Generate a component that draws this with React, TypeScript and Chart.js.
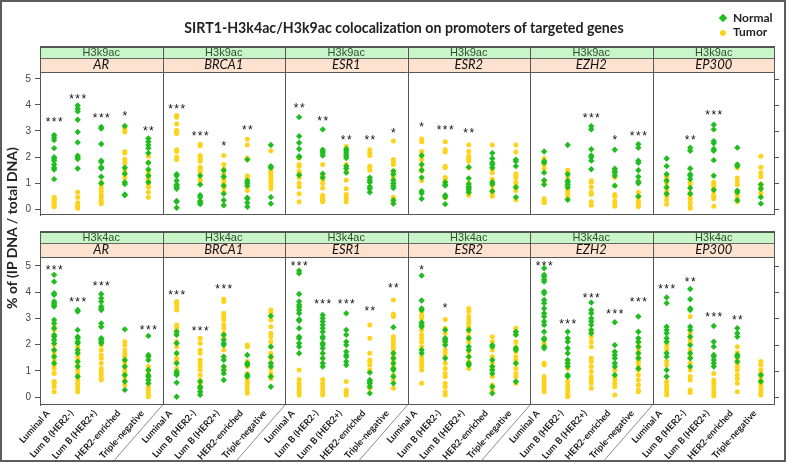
import React, { useEffect, useRef } from 'react';
import { Chart, registerables } from 'chart.js';
Chart.register(...registerables);

// ---------- labels ----------
const genes = ['AR', 'BRCA1', 'ESR1', 'ESR2', 'EZH2', 'EP300'];
const subtypes = ['Luminal A', 'Lum B (HER2-)', 'Lum B (HER2+)', 'HER2-enriched', 'Triple-negative'];
const marks = ['H3k9ac', 'H3k4ac'];
const yTicks = [0, 1, 2, 3, 4, 5];
const seriesNames = ['Normal', 'Tumor'];

// ---------- H3k9ac (top row): per gene, per subtype ----------
const k9_AR_N = [
  [2.84, 2.75, 2.65, 2.34, 1.99, 1.93, 1.86, 1.71, 1.59, 1.52, 1.15],
  [3.98, 3.85, 3.75, 3.43, 2.96, 2.56, 2.05, 1.98, 1.92, 1.56],
  [3.15, 3.09, 2.5, 1.86, 1.81, 1.61, 1.56, 1.24, 0.99],
  [3.19, 1.59, 1.36, 1.03, 0.96, 0.56, 0.53],
  [2.71, 2.59, 2.46, 2.34, 2.15, 1.78, 1.52, 1.28, 1.03],
];
const k9_AR_T = [
  [0.46, 0.4, 0.34, 0.28, 0.21, 0.15, 0.09],
  [0.65, 0.46, 0.24, 0.15, 0.09, 0.03],
  [1.03, 0.94, 0.81, 0.69, 0.53, 0.46, 0.34, 0.24, 0.21],
  [3.11, 3.03, 2.96, 2.21, 2.15, 1.9, 1.78, 1.59, 1.46, 1.34, 1.21],
  [2.03, 1.78, 1.46, 1.36, 1.28, 1.19, 1.09, 0.94, 0.84, 0.65, 0.46],
];
const k9_BRCA1_N = [
  [1.34, 1.28, 1.09, 0.94, 0.9, 0.84, 0.78, 0.31, 0.28, 0.05],
  [1.28, 0.94, 0.53, 0.46, 0.31, 0.24, 0.19],
  [1.49, 1.24, 0.9, 0.59, 0.34, 0.15],
  [1.9, 1.09, 0.99, 0.9, 0.44, 0.4, 0.24, 0.09],
  [2.46, 1.65, 1.59, 0.46, 0.21],
];
const k9_BRCA1_T = [
  [3.59, 3.53, 3.28, 3.03, 2.96, 2.9, 2.28, 2.21, 1.99, 1.9],
  [2.49, 2.43, 2.06, 1.96, 1.9, 1.84, 1.61, 1.55, 1.49, 1.4, 1.15, 1.09],
  [2.06, 1.71, 1.53, 1.4, 1.28, 1.15, 1.03, 0.94, 0.81, 0.65],
  [2.68, 2.46, 1.96, 1.9, 1.28, 1.21, 1.11, 0.84, 0.71],
  [2.24, 1.49, 1.4, 1.31, 1.21, 1.11, 1.03, 0.9, 0.78],
];
const k9_ESR1_N = [
  [3.53, 2.8, 2.55, 2.31, 2.03, 1.99, 1.31],
  [3.06, 2.28, 2.21, 2.15, 2.06, 1.36, 1.21],
  [2.31, 2.24, 2.15, 2.06, 1.96, 1.65, 1.56, 1.4],
  [1.21, 1.11, 1.03, 0.86, 0.78, 0.65],
  [1.46, 1.34, 1.11, 0.99, 0.9, 0.81, 0.34, 0.21],
];
const k9_ESR1_T = [
  [1.96, 1.71, 1.65, 1.44, 1.36, 1.21, 0.99, 0.86, 0.59, 0.28],
  [1.71, 1.28, 1.15, 0.99, 0.81, 0.53, 0.46, 0.4, 0.34, 0.28],
  [2.4, 2.03, 1.71, 1.44, 1.11, 0.78, 0.56, 0.5, 0.4, 0.28],
  [2.28, 2.15, 2.06, 1.65, 1.59, 1.49],
  [2.61, 1.9, 1.81, 1.71, 1.46, 1.34, 1.21, 0.46, 0.4, 0.28],
];
const k9_ESR2_N = [
  [2.06, 1.71, 1.49, 1.21, 0.69, 0.61, 0.4],
  [1.03, 0.94, 0.9, 0.53, 0.46, 0.19],
  [1.61, 1.18, 0.96, 0.86, 0.81, 0.74, 0.65],
  [2.15, 1.94, 1.78, 1.71, 1.59, 1.03, 0.96, 0.69],
  [1.9, 1.84, 1.65, 0.84, 0.46],
];
const k9_ESR2_T = [
  [2.69, 2.59, 2.21, 2.06, 1.9, 1.53, 1.46, 1.09],
  [2.59, 2.28, 2.19, 1.65, 1.59, 1.21, 1.15, 1.06, 0.49, 0.44],
  [2.46, 2.21, 2.03, 1.96, 1.9, 1.84, 1.59, 0.99, 0.65, 0.59, 0.53],
  [2.46, 1.53, 1.4, 1.15, 0.9, 0.71, 0.59, 0.49],
  [2.46, 2.19, 1.36, 1.28, 1.21, 1.03, 0.9, 0.81, 0.71, 0.36],
];
const k9_EZH2_N = [
  [2.21, 1.84, 1.78, 1.4, 1.11, 0.94],
  [2.46, 1.34, 1.09, 1.03, 0.94, 0.84, 0.36],
  [3.18, 3.06, 2.3, 2.06, 1.99, 1.86, 1.53],
  [2.28, 1.55, 1.46, 1.4, 1.28, 0.9],
  [2.49, 2.36, 1.86, 1.78, 1.49, 1.24, 1.06, 0.99, 0.49],
];
const k9_EZH2_T = [
  [1.94, 1.86, 1.71, 1.56, 1.03, 0.4, 0.34, 0.28, 0.24],
  [1.49, 1.4, 1.21, 0.86, 0.78, 0.69, 0.59, 0.46],
  [1.09, 1.03, 0.84, 0.65, 0.56, 0.28, 0.15],
  [1.21, 0.9, 0.56, 0.49, 0.31, 0.21, 0.11],
  [0.65, 0.46, 0.31, 0.24, 0.15, 0.09],
];
const k9_EP300_N = [
  [1.94, 1.65, 1.34, 1.09, 0.84, 0.59],
  [2.36, 2.24, 1.56, 1.34, 1.28, 1.15, 0.81, 0.59],
  [3.24, 3.06, 2.61, 2.53, 2.31, 2.24, 1.88, 1.28, 0.74],
  [2.36, 1.71, 1.65, 0.71, 0.65, 0.34],
  [0.94, 0.78, 0.46, 0.21],
];
const k9_EP300_T = [
  [1.28, 1.21, 1.15, 0.99, 0.78, 0.65, 0.49, 0.34, 0.19],
  [1.03, 0.94, 0.61, 0.53, 0.4, 0.24, 0.09, 0.03],
  [1.03, 0.94, 0.84, 0.71, 0.56, 0.49, 0.4, 0.11],
  [1.59, 1.19, 1.03, 0.94, 0.65, 0.56, 0.46, 0.28],
  [2.03, 1.61, 1.4, 1.24, 0.96, 0.84, 0.65, 0.59],
];

// ---------- H3k4ac (bottom row) ----------
const k4_AR_N = [
  [4.66, 4.4, 3.96, 3.9, 3.64, 3.58, 3.51, 3.45, 2.94, 2.81, 2.62, 2.37, 2.31, 2.18, 2.05, 1.79, 1.54, 1.29],
  [3.32, 3.26, 2.56, 2.3, 2.24, 2.11, 2.05, 1.79, 1.67, 1.35, 1.16, 0.78],
  [3.93, 3.77, 3.64, 3.45, 3.38, 3.32, 2.81, 2.68, 2.24, 2.18, 2.11, 2.05],
  [2.58, 1.41, 1.16, 0.84, 0.59, 0.27],
  [2.33, 1.6, 1.54, 1.41, 1.03, 0.84, 0.78, 0.65, 0.52],
];
const k4_AR_T = [
  [2.75, 2.56, 2.3, 1.98, 1.79, 1.73, 1.6, 1.41, 1.22, 1.09, 0.9, 0.59, 0.52, 0.39, 0.2],
  [1.92, 1.73, 1.54, 1.41, 1.22, 1.03, 0.9, 0.78, 0.65, 0.52, 0.39, 0.27, 0.2],
  [1.98, 1.79, 1.6, 1.48, 1.29, 1.09, 0.97, 0.84, 0.71, 0.65],
  [2.11, 1.98, 1.79, 1.67, 1.54, 1.35, 1.22, 1.03, 0.9, 0.78, 0.65, 0.46],
  [1.16, 0.97, 0.78, 0.65, 0.52, 0.39, 0.27, 0.17, 0.08, 0.01],
];
const k4_BRCA1_N = [
  [2.49, 2.37, 2.05, 1.67, 1.29, 0.97, 0.9, 0.84, 0.55, 0.01],
  [0.59, 0.39, 0.33, 0.2, 0.08],
  [2.37, 2.18, 2.05, 1.98, 1.54, 1.41, 1.16, 1.03, 0.9, 0.65],
  [1.6, 1.29, 1.22, 0.84, 0.78],
  [3.09, 1.92, 1.54, 1.29, 1.16, 0.78, 0.39],
];
const k4_BRCA1_T = [
  [3.64, 3.58, 3.45, 3.32, 2.75, 2.68, 2.56, 2.37, 2.11, 1.92, 1.67, 1.48, 1.35, 1.09],
  [2.24, 2.05, 1.79, 1.67, 1.41, 1.29, 1.16, 1.03, 0.84, 0.65, 0.52, 0.39, 0.2],
  [3.73, 3.64, 3.19, 3.07, 2.94, 2.75, 2.62, 2.43, 2.3, 1.79, 1.54, 1.16, 1.03],
  [1.98, 1.92, 1.35, 1.16, 0.9, 0.78, 0.65, 0.52, 0.39, 0.27, 0.14],
  [3.32, 3.19, 2.94, 2.68, 2.43, 2.3, 2.11, 1.92, 1.67, 1.48, 1.29, 1.09, 0.9, 0.71],
];
const k4_ESR1_N = [
  [4.82, 4.72, 3.93, 3.64, 3.51, 3.42, 3.32, 3.19, 2.96, 2.91, 2.62, 2.3, 2.24, 2.05, 1.92, 1.67],
  [3.13, 3.0, 2.88, 2.75, 2.62, 2.49, 2.3, 2.24, 2.05, 1.98, 1.86, 1.67, 1.48, 1.29, 1.16],
  [3.19, 2.56, 2.37, 2.11, 1.98, 1.73, 1.6, 1.54, 1.35, 1.22],
  [0.93, 0.65, 0.59, 0.52, 0.39, 0.14],
  [2.66, 1.67, 1.48, 1.29, 1.09, 1.03, 0.78, 0.52],
];
const k4_ESR1_T = [
  [1.03, 0.67, 0.52, 0.39, 0.27, 0.17, 0.08],
  [1.48, 0.67, 0.52, 0.39, 0.27, 0.17, 0.08],
  [0.59, 0.27, 0.17, 0.08],
  [2.75, 2.24, 1.67, 1.41, 1.35, 1.22, 1.03, 0.46, 0.33],
  [3.7, 3.17, 3.07, 2.3, 2.18, 2.05, 1.92, 1.79, 1.54, 1.41, 1.16, 0.84, 0.65, 0.33],
];
const k4_ESR2_N = [
  [4.63, 3.68, 3.38, 3.32, 2.84, 2.75, 2.68, 1.79, 1.67],
  [2.56, 2.24, 2.18, 2.11, 1.98, 1.48],
  [2.56, 2.24, 1.92, 1.79, 1.54, 1.29, 1.22],
  [1.98, 1.92, 1.41, 1.16, 1.03, 0.9, 0.39, 0.14],
  [2.49, 2.37, 1.86, 1.79, 1.29, 0.59],
];
const k4_ESR2_T = [
  [3.26, 3.13, 3.0, 2.56, 2.37, 2.24, 2.11, 1.92, 1.54, 1.41, 1.29, 1.16, 1.03, 0.52],
  [2.96, 2.62, 2.43, 2.05, 1.79, 1.67, 1.54, 1.29, 1.09, 0.9, 0.78, 0.52, 0.39, 0.2, 0.08],
  [3.38, 3.26, 3.07, 2.94, 2.81, 2.68, 2.49, 2.3, 2.11, 1.73, 1.54, 1.35, 1.22, 1.09],
  [2.3, 2.11, 1.79, 1.54, 1.29, 1.09, 0.78, 0.46, 0.27],
  [2.62, 2.49, 2.37, 2.11, 1.92, 1.73, 1.54, 1.41, 1.29, 1.09, 0.9, 0.78, 0.52],
];
const k4_EZH2_N = [
  [4.91, 4.66, 4.59, 4.47, 4.4, 4.02, 3.96, 3.7, 3.58, 3.38, 3.19, 3.07, 2.88, 2.75, 2.49, 2.24, 2.18, 1.92, 1.86],
  [2.49, 2.24, 2.11, 1.86, 1.67, 1.41, 1.29, 1.16, 0.84, 0.78],
  [3.6, 3.32, 3.19, 3.0, 2.88, 2.75, 2.56, 2.43],
  [2.85, 1.98, 1.73, 1.6, 1.48, 1.29, 1.16, 0.84],
  [3.07, 2.49, 2.24, 2.11, 1.92, 1.67, 1.48, 1.09],
];
const k4_EZH2_T = [
  [2.05, 1.98, 1.29, 1.22, 0.78, 0.65, 0.52, 0.39, 0.27, 0.2],
  [1.35, 1.22, 1.09, 0.59, 0.46, 0.33, 0.2, 0.08, 0.01],
  [2.49, 2.3, 2.11, 1.92, 1.48, 1.35, 1.16, 0.97, 0.78, 0.65, 0.52, 0.33],
  [1.03, 0.78, 0.65, 0.52, 0.39, 0.08],
  [2.05, 1.79, 1.54, 1.35, 1.22, 1.03, 0.84, 0.65, 0.46, 0.27, 0.2],
];
const k4_EP300_N = [
  [3.8, 3.58, 2.68, 2.56, 2.43, 2.24, 2.11, 1.67, 1.54, 1.03, 0.78],
  [4.12, 3.73, 3.38, 3.32, 2.68, 2.56, 2.3, 1.98, 1.67, 1.48, 1.16],
  [2.71, 2.11, 1.92, 1.6, 1.54, 1.41, 1.29, 1.16],
  [2.62, 2.43, 2.3, 1.6, 1.54, 1.35],
  [0.84, 0.59],
];
const k4_EP300_T = [
  [2.05, 1.92, 1.79, 1.35, 1.22, 0.59, 0.46, 0.33, 0.2, 0.08],
  [3.07, 2.43, 2.18, 2.05, 1.79, 1.54, 1.29, 1.03, 0.78, 0.65, 0.27, 0.17],
  [0.9, 0.65, 0.52, 0.39, 0.27, 0.14, 0.04],
  [1.92, 1.69, 1.48, 1.29, 1.16, 1.03, 0.84, 0.71, 0.52, 0.2],
  [1.35, 1.22, 1.03, 0.9, 0.78, 0.65, 0.52, 0.39, 0.27, 0.14, 0.08],
];

// ---------- significance marks (text, and the value where they sit) ----------
const k9_stars = [
  ['***', '***', '***', '*', '**'],
  ['***', '***', '*', '**', ''],
  ['**', '**', '**', '**', '*'],
  ['*', '***', '**', '', ''],
  ['', '', '***', '*', '***'],
  ['', '**', '***', '', ''],
];
const k9_starY = [
  [3.46, 4.36, 3.6, 3.7, 3.1],
  [3.96, 2.93, 2.55, 3.15, 0],
  [3.99, 3.49, 2.78, 2.78, 3.03],
  [3.28, 3.15, 3.03, 0, 0],
  [0, 0, 3.63, 2.78, 2.93],
  [0, 2.78, 3.74, 0, 0],
];
const k4_stars = [
  ['***', '***', '***', '', '***'],
  ['***', '***', '***', '', ''],
  ['***', '***', '***', '**', '**'],
  ['*', '*', '', '', ''],
  ['***', '***', '***', '***', '***'],
  ['***', '**', '***', '**', ''],
];
const k4_starY = [
  [4.97, 3.73, 4.36, 0, 2.66],
  [4.02, 2.62, 4.24, 0, 0],
  [5.13, 3.68, 3.68, 3.38, 4.27],
  [4.97, 3.51, 0, 0, 0],
  [5.1, 2.91, 3.89, 3.28, 3.73],
  [4.24, 4.49, 3.16, 3.04, 0],
];

const k9Normal = [k9_AR_N, k9_BRCA1_N, k9_ESR1_N, k9_ESR2_N, k9_EZH2_N, k9_EP300_N];
const k9Tumor = [k9_AR_T, k9_BRCA1_T, k9_ESR1_T, k9_ESR2_T, k9_EZH2_T, k9_EP300_T];
const k4Normal = [k4_AR_N, k4_BRCA1_N, k4_ESR1_N, k4_ESR2_N, k4_EZH2_N, k4_EP300_N];
const k4Tumor = [k4_AR_T, k4_BRCA1_T, k4_ESR1_T, k4_ESR2_T, k4_EZH2_T, k4_EP300_T];

// ---------- layout / style ----------
const PANEL_W = 5.2;
const PAD = 0.6;
const X_MAX = PANEL_W * genes.length;
const GREEN = '#1fbd1f';
const YELLOW = '#fdd31a';
const STRIP_GREEN = '#c9f6c9';
const STRIP_PEACH = '#fde2cf';

const catX = (p: number, c: number) => p * PANEL_W + PAD + c;

function toPoints(panels: number[][][]) {
  const pts: { x: number; y: number }[] = [];
  panels.forEach((gene, p) =>
    gene.forEach((vals, c) => vals.forEach((v) => pts.push({ x: catX(p, c), y: v })))
  );
  return pts;
}

function makeDecor(mark: string, stars: string[][], starY: number[][], diagonals: boolean) {
  return {
    id: 'decor',
    afterDraw(chart: any) {
      const { ctx, chartArea: a, scales } = chart;
      const xs = scales.x;
      const ys = scales.y;
      ctx.save();
      // strips
      for (let p = 0; p < genes.length; p++) {
        const x0 = xs.getPixelForValue(p * PANEL_W);
        const x1 = xs.getPixelForValue((p + 1) * PANEL_W);
        ctx.fillStyle = STRIP_GREEN;
        ctx.fillRect(x0, a.top - 25, x1 - x0, 11);
        ctx.fillStyle = STRIP_PEACH;
        ctx.fillRect(x0, a.top - 14, x1 - x0, 14);
        const xc = (x0 + x1) / 2;
        ctx.textAlign = 'center';
        ctx.textBaseline = 'middle';
        ctx.fillStyle = '#2e4e2e';
        ctx.font = '11px "Liberation Sans"';
        ctx.fillText(mark, xc, a.top - 19);
        ctx.fillStyle = '#111';
        ctx.font = 'italic 13px Lato';
        ctx.fillText(genes[p], xc, a.top - 7);
      }
      // strip lines
      ctx.strokeStyle = '#222';
      ctx.lineWidth = 1.3;
      ctx.beginPath();
      ctx.moveTo(a.left, a.top - 25);
      ctx.lineTo(a.right, a.top - 25);
      ctx.stroke();
      ctx.lineWidth = 1;
      ctx.strokeStyle = '#666';
      ctx.beginPath();
      ctx.moveTo(a.left, a.top - 13.5);
      ctx.lineTo(a.right, a.top - 13.5);
      ctx.stroke();
      // panel border + separators
      ctx.strokeStyle = '#555';
      ctx.strokeRect(a.left + 0.5, a.top - 25, a.right - a.left - 1, a.bottom - a.top + 25 - 0.5);
      ctx.beginPath();
      ctx.moveTo(a.left, a.top + 0.5);
      ctx.lineTo(a.right, a.top + 0.5);
      for (let p = 1; p < genes.length; p++) {
        const bx = Math.round(xs.getPixelForValue(p * PANEL_W)) + 0.5;
        ctx.moveTo(bx, a.top - 25);
        ctx.lineTo(bx, a.bottom);
      }
      ctx.stroke();
      // right-hand ticks
      ctx.beginPath();
      yTicks.forEach((v) => {
        const y = Math.round(ys.getPixelForValue(v)) + 0.5;
        ctx.moveTo(a.right, y);
        ctx.lineTo(a.right + 4, y);
      });
      ctx.stroke();
      // diagonal separators under the axis
      if (diagonals) {
        ctx.strokeStyle = '#8a8a8a';
        ctx.beginPath();
        for (let p = 1; p < genes.length; p++) {
          const bx = xs.getPixelForValue(p * PANEL_W);
          ctx.moveTo(bx, a.bottom);
          ctx.lineTo(bx - 48, a.bottom + 55);
        }
        ctx.stroke();
      }
      // significance stars
      ctx.fillStyle = '#111';
      ctx.font = '12px "Liberation Sans"';
      ctx.textAlign = 'center';
      ctx.textBaseline = 'alphabetic';
      (ctx as any).letterSpacing = '1.5px';
      for (let p = 0; p < genes.length; p++) {
        for (let c = 0; c < subtypes.length; c++) {
          const s = stars[p][c];
          if (!s) continue;
          const x = xs.getPixelForValue(catX(p, c)) + 0.75;
          const y = ys.getPixelForValue(starY[p][c]);
          ctx.fillText(s, x, y + 7);
        }
      }
      ctx.restore();
    },
  };
}

function makeConfig(
  normal: number[][][],
  tumor: number[][][],
  mark: string,
  stars: string[][],
  starY: number[][],
  yMin: number,
  yMax: number,
  showX: boolean,
  padTop: number,
  padBottom: number
): any {
  return {
    type: 'scatter',
    data: {
      datasets: [
        {
          label: seriesNames[0],
          data: toPoints(normal),
          pointStyle: 'rectRot',
          pointRadius: 3.2,
          backgroundColor: GREEN,
          borderColor: GREEN,
          borderWidth: 0,
        },
        {
          label: seriesNames[1],
          data: toPoints(tumor),
          pointStyle: 'circle',
          pointRadius: 2.5,
          backgroundColor: YELLOW,
          borderColor: YELLOW,
          borderWidth: 0,
        },
      ],
    },
    options: {
      animation: false,
      responsive: false,
      events: [],
      layout: { padding: { left: 10, right: 11, top: padTop, bottom: padBottom } },
      plugins: { legend: { display: false }, tooltip: { enabled: false }, title: { display: false } },
      scales: {
        x: {
          type: 'linear',
          min: 0,
          max: X_MAX,
          display: showX,
          afterBuildTicks: (s: any) => {
            const t: any[] = [];
            genes.forEach((_, p) => subtypes.forEach((__, c) => t.push({ value: catX(p, c) })));
            s.ticks = t;
          },
          afterFit: (s: any) => {
            if (showX) s.height = 58;
          },
          grid: { display: false, drawTicks: false, tickLength: 0 },
          border: { display: false },
          ticks: {
            autoSkip: false,
            minRotation: 48,
            maxRotation: 48,
            padding: 3,
            labelOffset: -6,
            color: '#1a1a1a',
            font: { family: 'Lato', size: 9.2, weight: 'bold' },
            callback: (_v: any, i: number) => subtypes[i % subtypes.length],
          },
        },
        y: {
          type: 'linear',
          min: yMin,
          max: yMax,
          afterBuildTicks: (s: any) => {
            s.ticks = yTicks.map((v) => ({ value: v }));
          },
          afterFit: (s: any) => {
            s.width = 30;
          },
          grid: { drawOnChartArea: false, drawTicks: true, tickLength: 5, color: '#555' },
          border: { display: true, color: '#555' },
          ticks: {
            padding: 4,
            color: '#444',
            font: { family: 'Liberation Sans', size: 10 },
            callback: (v: any) => String(v),
          },
        },
      },
    },
    plugins: [makeDecor(mark, stars, starY, showX)],
  };
}

export default function App() {
  const topRef = useRef<HTMLCanvasElement>(null);
  const botRef = useRef<HTMLCanvasElement>(null);

  useEffect(() => {
    const c1 = new Chart(
      topRef.current as HTMLCanvasElement,
      makeConfig(k9Normal, k9Tumor, marks[0], k9_stars, k9_starY, -0.226, 5.263, false, 72, 7)
    );
    const c2 = new Chart(
      botRef.current as HTMLCanvasElement,
      makeConfig(k4Normal, k4Tumor, marks[1], k4_stars, k4_starY, -0.305, 5.34, true, 32, 0)
    );
    return () => {
      c1.destroy();
      c2.destroy();
    };
  }, []);

  return (
    <div
      style={{
        position: 'absolute',
        left: 0,
        top: 0,
        width: 786,
        height: 463,
        background: '#fff',
        overflow: 'hidden',
        fontFamily: 'Lato, sans-serif',
      }}
    >
      <canvas ref={topRef} width={786} height={225} style={{ position: 'absolute', left: 0, top: 0, display: 'block' }} />
      <canvas ref={botRef} width={786} height={238} style={{ position: 'absolute', left: 0, top: 225, display: 'block' }} />
      <div
        style={{
          position: 'absolute',
          left: 160,
          width: 488,
          top: 19,
          lineHeight: '18px',
          fontSize: 14.2,
          fontWeight: 700,
          textAlign: 'center',
          color: '#222',
          whiteSpace: 'nowrap',
        }}
      >
        SIRT1-H3k4ac/H3k9ac colocalization on promoters of targeted genes
      </div>
      <div
        style={{
          position: 'absolute',
          left: -138,
          top: 219,
          width: 300,
          height: 18,
          lineHeight: '18px',
          fontSize: 14,
          fontWeight: 700,
          textAlign: 'center',
          color: '#222',
          transform: 'rotate(-90deg)',
          whiteSpace: 'nowrap',
        }}
      >
        % of (IP DNA / total DNA)
      </div>
      {/* legend */}
      <div style={{ position: 'absolute', left: 720, top: 15, width: 6, height: 6, background: GREEN, transform: 'rotate(45deg)' }} />
      <div style={{ position: 'absolute', left: 733, top: 10, fontSize: 12, lineHeight: '16px', fontWeight: 700, color: '#222' }}>
        {seriesNames[0]}
      </div>
      <div style={{ position: 'absolute', left: 720, top: 30, width: 6, height: 6, background: YELLOW, borderRadius: '50%' }} />
      <div style={{ position: 'absolute', left: 733, top: 24, fontSize: 12, lineHeight: '16px', fontWeight: 700, color: '#222' }}>
        {seriesNames[1]}
      </div>
      {/* outer frame */}
      <div
        style={{
          position: 'absolute',
          left: 0,
          top: 0,
          width: 786,
          height: 462,
          boxSizing: 'border-box',
          border: '2px solid #5c5c5c',
          pointerEvents: 'none',
        }}
      />
    </div>
  );
}
